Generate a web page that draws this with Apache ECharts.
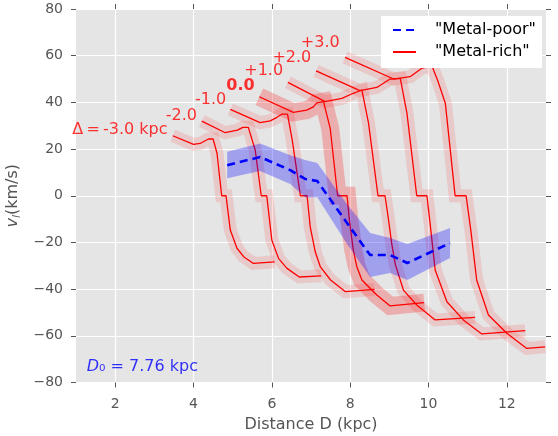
<!DOCTYPE html>
<html><head><meta charset="utf-8">
<script src="https://cdn.jsdelivr.net/npm/echarts@6/dist/echarts.min.js"></script>
<style>html,body{margin:0;padding:0;background:#fff}#c{width:558px;height:436px}</style>
</head><body><div id="c"></div>
<script>
// ---- axis ticks ----
const xTicks = [2, 4, 6, 8, 10, 12];
const yTicks = [-80, -60, -40, -20, 0, 20, 40, 60, 80];

// ---- Metal-rich model curves (D in kpc, v_l in km/s), one per Delta ----
const dM3 = [3.47, 4.00, 4.17, 4.38, 4.50, 4.60, 4.72, 4.83, 4.94, 5.11, 5.28, 5.53, 6.07];
const vM3 = [25.7, 22.0, 22.4, 24.3, 24.3, 18.2, 0, 0, -14.7, -22.5, -26.1, -29.0, -28.3];
const dM2 = [4.21, 4.81, 5.12, 5.26, 5.40, 5.575, 5.73, 5.87, 6.00, 6.17, 6.38, 6.70, 7.26];
const vM2 = [32.0, 27.0, 28.1, 29.3, 29.3, 19.6, 0, 0, -19.0, -26.8, -31.0, -34.8, -34.3];
const dM1 = [4.94, 5.70, 5.96, 6.13, 6.26, 6.40, 6.52, 6.73, 6.90, 6.98, 7.11, 7.24, 7.50, 7.88, 8.62];
const vM1 = [37.0, 31.3, 32.1, 33.6, 35.0, 35.0, 23.9, 0, 0, -13.3, -24.1, -30.5, -36.1, -41.1, -40.1];
const d0 = [5.68, 6.55, 6.89, 7.06, 7.15, 7.32, 7.49, 7.68, 7.92, 7.98, 8.08, 8.17, 8.30, 8.68, 9.02, 9.89];
const v0 = [42.4, 35.7, 36.7, 38.1, 39.8, 40.3, 28.9, 0, 0, -10.4, -23.3, -30.4, -36.1, -42.5, -47.2, -45.8];
const dP1 = [6.41, 7.36, 7.79, 8.08, 8.30, 8.47, 8.71, 8.89, 8.98, 9.06, 9.15, 9.36, 9.70, 10.17, 11.19];
const vP1 = [48.6, 40.3, 41.7, 43.9, 45.3, 31.0, 0, 0, -10.4, -20.4, -29.3, -40.4, -46.8, -53.2, -52.1];
const dP2 = [7.13, 8.25, 8.68, 9.02, 9.28, 9.45, 9.70, 9.96, 10.04, 10.17, 10.47, 10.89, 11.36, 12.47];
const vP2 = [53.5, 45.0, 46.4, 50.0, 50.3, 35.3, 0, 0, -11.7, -31.8, -45.4, -53.2, -59.2, -57.8];
const dP3 = [7.87, 9.11, 9.53, 9.84, 10.09, 10.23, 10.43, 10.68, 10.96, 11.08, 11.23, 11.53, 12.00, 12.51, 12.98];
const vP3 = [59.3, 50.0, 51.0, 54.7, 55.5, 49.6, 39.6, 0, 0, -14.7, -36.1, -51.1, -58.9, -65.4, -64.7];

// ---- Delta labels ----
const deltaLabels = ['Δ\u2009=\u2009-3.0 kpc', '-2.0', '-1.0', '0.0', '+1.0', '+2.0', '+3.0'];
const labelD = [3.35, 4.10, 4.85, 5.575, 6.30, 7.02, 7.745];
const labelV = [28.4, 34.1, 41.1, 47.0, 53.3, 59.2, 65.5];

// ---- Metal-poor measurement ----
const mpD  = [4.86, 5.70, 6.47, 6.85, 7.16, 7.92, 8.51, 9.02, 9.46, 10.55];
const mpV  = [13.1, 16.6, 11.0, 7.2, 6.3, -11.7, -25.4, -25.4, -28.8, -20.3];
const mpHi = [18.8, 22.4, 17.4, 15.3, 14.0, -3.6, -16.0, -18.1, -20.7, -13.8];
const mpLo = [7.5, 10.6, 5.0, -0.6, -0.6, -20.7, -34.8, -33.1, -36.1, -26.7];

// ---- annotation ----
const d0Text = { D: 1.26, v: -73.4, text: '7.76 kpc' };

const FONT = 'DejaVu Sans';
const curves = [[dM3, vM3], [dM2, vM2], [dM1, vM1], [d0, v0], [dP1, vP1], [dP2, vP2], [dP3, vP3]];
const pair = (a, b) => a.map((x, i) => [x, b[i]]);

const series = [];
curves.forEach((c, k) => {
  const main = k === 3;
  series.push({
    type: 'line', name: 'band' + k, data: pair(c[0], c[1]), symbol: 'none', silent: true,
    lineStyle: { color: main ? 'rgba(255,0,0,0.24)' : 'rgba(255,0,0,0.12)', width: main ? 18 : 13, join: 'miter', cap: 'butt' },
    z: 1, animation: false
  });
});
curves.forEach((c, k) => {
  series.push({
    type: 'line', name: '"Metal-rich"', data: pair(c[0], c[1]), symbol: 'none', silent: true,
    itemStyle: { color: '#ff0000' },
    lineStyle: { color: '#ff0000', width: 1.3 }, z: 3, animation: false
  });
});
series.push({
  type: 'custom', name: 'mpBand', silent: true, z: 4, animation: false,
  data: mpD.map((d, i) => [d, mpLo[i], mpHi[i]]),
  renderItem: function (params, api) {
    if (params.dataIndex !== 0) return null;
    const pts = [];
    for (let i = 0; i < mpD.length; i++) pts.push(api.coord([mpD[i], mpHi[i]]));
    for (let i = mpD.length - 1; i >= 0; i--) pts.push(api.coord([mpD[i], mpLo[i]]));
    return { type: 'polygon', shape: { points: pts }, style: { fill: 'rgba(0,0,255,0.3)', stroke: null } };
  }
});
series.push({
  type: 'line', name: '"Metal-poor"', data: pair(mpD, mpV), symbol: 'none', silent: true,
  itemStyle: { color: '#0000ff' },
  lineStyle: { color: '#0000ff', width: 2.6, type: [8, 5] }, z: 5, animation: false
});
series.push({
  type: 'scatter', name: 'labels', symbolSize: 1, itemStyle: { color: 'transparent' }, silent: true, z: 6, animation: false,
  data: labelD.map((d, i) => ({ value: [d, labelV[i]], label: { fontWeight: i === 3 ? 'bold' : 'normal' } })),
  label: {
    show: true, position: 'left', distance: 0, color: '#ff0000', fontSize: 16, fontFamily: FONT,
    formatter: p => deltaLabels[p.dataIndex]
  }
});
series.push({
  type: 'scatter', name: 'd0', symbolSize: 1, itemStyle: { color: 'transparent' }, silent: true, z: 6, animation: false,
  data: [[d0Text.D, d0Text.v]],
  label: {
    show: true, position: 'right', distance: 0, color: '#0000ff', fontSize: 16, fontFamily: FONT,
    formatter: '{i|D}₀ = ' + d0Text.text,
    rich: { i: { fontStyle: 'italic', fontSize: 16, fontFamily: FONT, color: '#0000ff' } }
  }
});

const tickLbl = { color: '#555', fontSize: 14, fontFamily: FONT };
const option = {
  animation: false,
  grid: { left: 76, right: 12, top: 9, bottom: 53.5, show: true, backgroundColor: '#e5e5e5', borderWidth: 0,
          containLabel: false, outerBoundsMode: 'none' },
  legend: {
    orient: 'vertical', left: 381, top: 16, z: 10,
    backgroundColor: '#ffffff', padding: [6, 6, 8, 11], itemGap: 6,
    itemWidth: 23, itemHeight: 14,
    itemStyle: { opacity: 0 },
    textStyle: { fontSize: 16, fontFamily: FONT, color: '#000', padding: [0, 0, 0, 14], lineHeight: 16 },
    data: ['"Metal-poor"', '"Metal-rich"'], selectedMode: false
  },
  xAxis: [{
    type: 'value', min: 1, max: 13, position: 'bottom',
    name: 'Distance D (kpc)', nameLocation: 'middle', nameGap: 34,
    nameTextStyle: { color: '#555', fontSize: 16, fontFamily: FONT },
    axisLine: { show: false, onZero: false },
    axisTick: { show: true, length: 5, lineStyle: { color: '#555' }, customValues: xTicks },
    axisLabel: Object.assign({ margin: 15, customValues: xTicks }, tickLbl),
    splitLine: { show: true, lineStyle: { color: '#ffffff', width: 1.2 } }
  }, {
    type: 'value', min: 1, max: 13, position: 'top',
    axisLine: { show: false, onZero: false },
    axisTick: { show: true, length: 5, lineStyle: { color: '#555' }, customValues: xTicks },
    axisLabel: { show: false, customValues: xTicks },
    splitLine: { show: false }
  }],
  yAxis: [{
    type: 'value', min: -80, max: 80, interval: 20, position: 'left',
    name: '{i|v}{s|l}(km/s)', nameLocation: 'middle', nameGap: 50, nameRotate: 90,
    nameTextStyle: { color: '#555', fontSize: 16, fontFamily: FONT,
      rich: { i: { fontStyle: 'italic', fontSize: 16, fontFamily: FONT, color: '#555', lineHeight: 20 },
              s: { fontStyle: 'italic', fontSize: 11, fontFamily: FONT, color: '#555', lineHeight: 10, verticalAlign: 'bottom' } } },
    axisLine: { show: false, onZero: false },
    axisTick: { show: true, length: 5, lineStyle: { color: '#555' } },
    axisLabel: Object.assign({ margin: 13, formatter: v => (v < 0 ? '\u2212' + (-v) : '' + v) }, tickLbl),
    splitLine: { show: true, lineStyle: { color: '#ffffff', width: 1.2 } }
  }, {
    type: 'value', min: -80, max: 80, interval: 20, position: 'right',
    axisLine: { show: false, onZero: false },
    axisTick: { show: true, length: 5, lineStyle: { color: '#555' } },
    axisLabel: { show: false },
    splitLine: { show: false }
  }],
  series: series
};
const chart = echarts.init(document.getElementById('c'), null, { renderer: 'canvas' });
chart.setOption(option);
</script>
</body></html>
